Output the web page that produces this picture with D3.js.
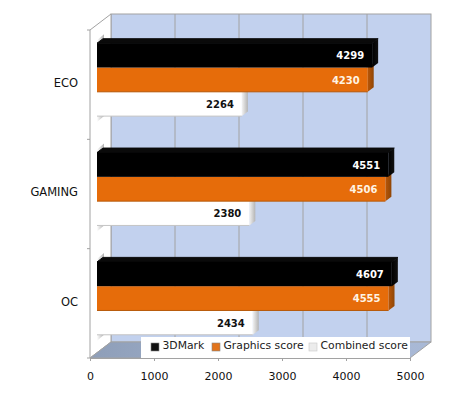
<!DOCTYPE html>
<meta charset="utf-8">
<title>3DMark scores</title>
<script src="https://d3js.org/d3.v7.min.js"></script>
<style>
  html, body { margin: 0; padding: 0; background: #fff; }
  svg { display: block; }
  text { font-family: "DejaVu Sans", Verdana, sans-serif; }
</style>
<svg width="450" height="395"></svg>
<script>

// values
var categories = ["ECO", "GAMING", "OC"];
var seriesNames = ["3DMark", "Graphics score", "Combined score"];
var markScores = [4299, 4551, 4607];
var graphicsScores = [4230, 4506, 4555];
var combinedScores = [2264, 2380, 2434];
var tickValues = [0, 1000, 2000, 3000, 4000, 5000];

var seriesValues = [markScores, graphicsScores, combinedScores];
var frontColors = ["#000000", "#e66c0a", "#ffffff"];
var sideColors = ["url(#sideBlack)", "url(#sideOrange)", "url(#sideWhite)"];
var labelColors = ["#ffffff", "#fff4e4", "#111111"];

var svg = d3.select("svg");

// 3d box: front plane and how far the back wall is shifted
var depthX = 21, depthY = -16;
// bars sit a bit behind the front plane, and have a small depth of their own
var barShiftX = 7, barShiftY = -5;
var barDepthX = 6, barDepthY = -4.5;

var x = d3.scaleLinear().domain([0, 5000]).range([90, 410]);
var y = d3.scaleBand().domain(categories).range([30, 358]);
var barH = 24.3;

function poly(points) {
    return points.map(function(p) { return p.join(","); }).join(" ");
}

// gradients
var defs = svg.append("defs");
function gradient(id, x2, y2, stops) {
    var g = defs.append("linearGradient").attr("id", id)
        .attr("x1", 0).attr("y1", 0).attr("x2", x2).attr("y2", y2);
    stops.forEach(function(s) {
        g.append("stop").attr("offset", s[0]).attr("stop-color", s[1]);
    });
}
gradient("sideBlack", 1, 0, [[0, "#000"], [1, "#111"]]);
gradient("sideOrange", 1, 0, [[0, "#b85608"], [1, "#8f4606"]]);
gradient("sideWhite", 1, 0, [[0, "#f2f2f2"], [1, "#b4b4b4"]]);
gradient("floorFill", 1, 0, [[0, "#8e9eb8"], [0.5, "#a3b3cf"], [1, "#a9b9d6"]]);
gradient("shade", 1, 0, [[0, "#ffffff"], [1, "#b0b0b0"]]);

var x0 = x(0), x1 = x(5000), top0 = y.range()[0], bot0 = y.range()[1];

// back wall
svg.append("rect")
    .attr("x", x0 + depthX).attr("y", top0 + depthY)
    .attr("width", x1 - x0).attr("height", bot0 - top0)
    .attr("fill", "#c2d1ee")
    .attr("stroke", "#a2a2a2").attr("stroke-width", 1);

// left wall
svg.append("polygon")
    .attr("points", poly([[x0, top0], [x0 + depthX, top0 + depthY], [x0 + depthX, bot0 + depthY], [x0, bot0]]))
    .attr("fill", "#fff")
    .attr("stroke", "#a2a2a2");

// floor
svg.append("polygon")
    .attr("points", poly([[x0, bot0], [x1, bot0], [x1 + depthX, bot0 + depthY], [x0 + depthX, bot0 + depthY]]))
    .attr("fill", "url(#floorFill)")
    .attr("stroke", "#a2a2a2");

// gridlines on the back wall
svg.append("g").selectAll("line")
    .data(tickValues.slice(1, -1))
    .enter()
    .append("line")
    .attr("x1", function(d) { return x(d) + depthX; })
    .attr("x2", function(d) { return x(d) + depthX; })
    .attr("y1", top0 + depthY)
    .attr("y2", bot0 + depthY)
    .attr("stroke", "#a2a2a2");

// shaded slivers where each group meets the wall
categories.forEach(function(c) {
    var gTop = y(c) + y.bandwidth() / 2 + barShiftY - barH * 1.5;
    var gBot = gTop + barH * 3;
    var sx = x0 + barShiftX;
    svg.append("polygon")
        .attr("points", poly([[sx, gTop], [sx, gTop - 3], [sx + 7, gTop - 9], [sx + 7, gTop - 5]]))
        .attr("fill", "url(#shade)");
    svg.append("polygon")
        .attr("points", poly([[sx, gBot + 6], [sx + 7, gBot], [sx, gBot]]))
        .attr("fill", "url(#shade)");
});

// bars, bottom one first so the upper bar covers the top of the side face below it
categories.forEach(function(c, ci) {
    var gTop = y(c) + y.bandwidth() / 2 + barShiftY - barH * 1.5;
    var g = svg.append("g");
    d3.range(seriesValues.length).reverse().forEach(function(si) {
        var v = seriesValues[si][ci];
        var bx = x0 + barShiftX;
        var ex = x(v) + barShiftX;
        var by = gTop + si * barH;

        // top face only shows on the first bar of a group
        if (si === 0) {
            g.append("polygon")
                .attr("points", poly([[bx, by], [bx + barDepthX, by + barDepthY], [ex + barDepthX, by + barDepthY], [ex, by]]))
                .attr("fill", "#0a0a0a")
                .attr("stroke", "#0a0a0a").attr("stroke-linejoin", "round");
        }
        g.append("polygon")
            .attr("points", poly([[ex, by], [ex + barDepthX, by + barDepthY], [ex + barDepthX, by + barH + barDepthY], [ex, by + barH]]))
            .attr("fill", sideColors[si]);
        g.append("rect")
            .attr("x", bx).attr("y", by)
            .attr("width", ex - bx).attr("height", barH)
            .attr("fill", frontColors[si]);
        if (si > 0) {
            g.append("line")
                .attr("x1", bx).attr("x2", ex)
                .attr("y1", by + barH).attr("y2", by + barH)
                .attr("stroke", si === 1 ? "#b85a0a" : "#c4c4c4");
        }
        g.append("text")
            .attr("x", ex - 8)
            .attr("y", by + barH / 2 + 0.5)
            .attr("dy", "0.35em")
            .attr("text-anchor", "end")
            .attr("font-size", 10)
            .attr("font-weight", "bold")
            .attr("fill", labelColors[si])
            .text(v);
    });
});

// category labels
var catAxis = d3.axisLeft(y).tickSize(3).tickPadding(9);
var catG = svg.append("g").attr("transform", "translate(" + x0 + ",0)").call(catAxis);
catG.select(".domain").remove();
catG.selectAll("line").remove();
catG.selectAll("text")
    .attr("font-size", 11.5)
    .attr("fill", "#111")
    .attr("dy", "0.2em")
    .style("font-family", '"DejaVu Sans", sans-serif');
// left wall ticks between the categories
svg.append("g").selectAll("line")
    .data(d3.range(categories.length + 1))
    .enter()
    .append("line")
    .attr("x1", x0 - 3).attr("x2", x0)
    .attr("y1", function(i) { return top0 + i * y.step(); })
    .attr("y2", function(i) { return top0 + i * y.step(); })
    .attr("stroke", "#a2a2a2");

// value axis
var xAxis = d3.axisBottom(x).tickValues(tickValues).tickFormat(d3.format("d")).tickSize(3).tickSizeOuter(0).tickPadding(11);
var xG = svg.append("g").attr("transform", "translate(0," + bot0 + ")").call(xAxis);
xG.select(".domain").attr("stroke", "#a2a2a2");
xG.selectAll("line").attr("stroke", "#a2a2a2");
xG.selectAll("text")
    .attr("font-size", 11)
    .attr("fill", "#111")
    .style("font-family", '"DejaVu Sans", sans-serif');

// legend
var legend = svg.append("g");
legend.append("rect")
    .attr("x", 141).attr("y", 337)
    .attr("width", 269).attr("height", 21)
    .attr("fill", "#fff");
var legendX = [151, 212, 309];
var legendColors = ["#111111", "#e2741c", "#ececec"];
seriesNames.forEach(function(name, i) {
    legend.append("rect")
        .attr("x", legendX[i]).attr("y", 343)
        .attr("width", 8).attr("height", 8)
        .attr("fill", legendColors[i])
        .attr("stroke", i === 2 ? "#c8c8c8" : "#888")
        .attr("stroke-width", 0.6);
    legend.append("text")
        .attr("x", legendX[i] + 11.5)
        .attr("y", 345.5)
        .attr("dy", "0.35em")
        .attr("font-size", 10.8)
        .attr("fill", "#222")
        .text(name);
});

</script>
